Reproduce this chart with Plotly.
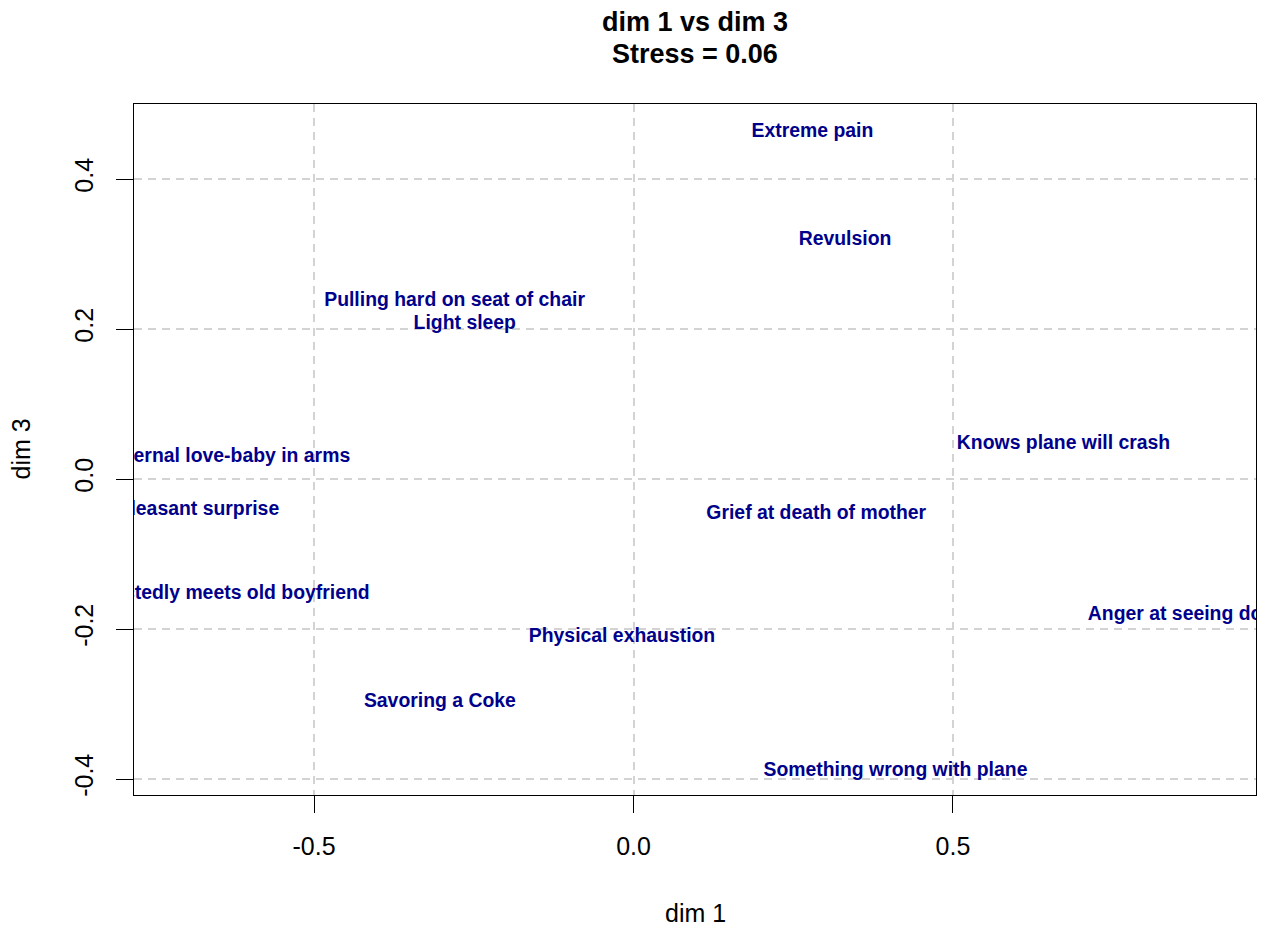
import plotly.graph_objects as go

# MDS configuration: dimension 1 vs dimension 3
labels = [
    "Extreme pain",
    "Revulsion",
    "Pulling hard on seat of chair",
    "Light sleep",
    "Maternal love-baby in arms",
    "Pleasant surprise",
    "Unexpectedly meets old boyfriend",
    "Knows plane will crash",
    "Grief at death of mother",
    "Anger at seeing dog beaten",
    "Physical exhaustion",
    "Savoring a Coke",
    "Something wrong with plane",
]
dim1 = [0.280, 0.331, -0.280, -0.264, -0.639, -0.681, -0.660, 0.673, 0.286, 0.910, -0.018, -0.303, 0.410]
dim3 = [0.463, 0.318, 0.237, 0.207, 0.029, -0.041, -0.153, 0.047, -0.047, -0.181, -0.211, -0.297, -0.389]

x_ticks = [-0.5, 0.0, 0.5]
x_tick_text = ["-0.5", "0.0", "0.5"]
y_ticks = [-0.4, -0.2, 0.0, 0.2, 0.4]
y_tick_text = ["-0.4", "-0.2", "0.0", "0.2", "0.4"]

FONT = "Liberation Sans, Arial, Helvetica, sans-serif"

fig = go.Figure()
fig.add_trace(go.Scatter(
    x=dim1, y=dim3, text=labels, mode="text",
    textposition="middle center",
    textfont=dict(family=FONT, size=19.4, color="#00008B", weight="bold"),
    cliponaxis=True, hoverinfo="text", showlegend=False,
))

axis_common = dict(
    showline=True, mirror=True, linecolor="black", linewidth=1,
    ticks="outside", ticklen=17, tickwidth=1, tickcolor="black",
    showgrid=True, gridcolor="#D3D3D3", gridwidth=1.5, griddash="8px,6px",
    zeroline=False, tickfont=dict(family=FONT, size=25, color="black"),
)

fig.update_xaxes(range=[-0.7817, 0.9742], tickvals=x_ticks, ticktext=x_tick_text,
                 ticklabelstandoff=12, **axis_common)
fig.update_yaxes(range=[-0.4213, 0.5], tickvals=y_ticks, ticktext=y_tick_text,
                 tickangle=-90, ticklabelstandoff=13, **axis_common)

fig.update_layout(
    width=1268, height=926,
    margin=dict(l=134, r=12, t=104, b=131),
    paper_bgcolor="white", plot_bgcolor="white",
    font=dict(family=FONT, color="black"),
    showlegend=False,
)

# Titles placed in pixel terms relative to the paper
plot_h = 926 - 104 - 131
def paper_y(px):
    return (926 - 131 - px) / plot_h

fig.add_annotation(text="<b>dim 1 vs dim 3</b>", xref="paper", yref="paper",
                   x=0.5, y=paper_y(22), showarrow=False, yanchor="middle",
                   font=dict(family=FONT, size=27, color="black"))
fig.add_annotation(text="<b>Stress = 0.06</b>", xref="paper", yref="paper",
                   x=0.5, y=paper_y(54), showarrow=False, yanchor="middle",
                   font=dict(family=FONT, size=27, color="black"))
fig.add_annotation(text="dim 1", xref="paper", yref="paper",
                   x=0.5, y=paper_y(913), showarrow=False, yanchor="middle",
                   font=dict(family=FONT, size=25, color="black"))
fig.add_annotation(text="dim 3", xref="paper", yref="paper",
                   x=(20 - 134) / (1268 - 134 - 12), y=0.5, showarrow=False,
                   textangle=-90, xanchor="center", yanchor="middle",
                   font=dict(family=FONT, size=25, color="black"))

fig.write_html("out.html")
